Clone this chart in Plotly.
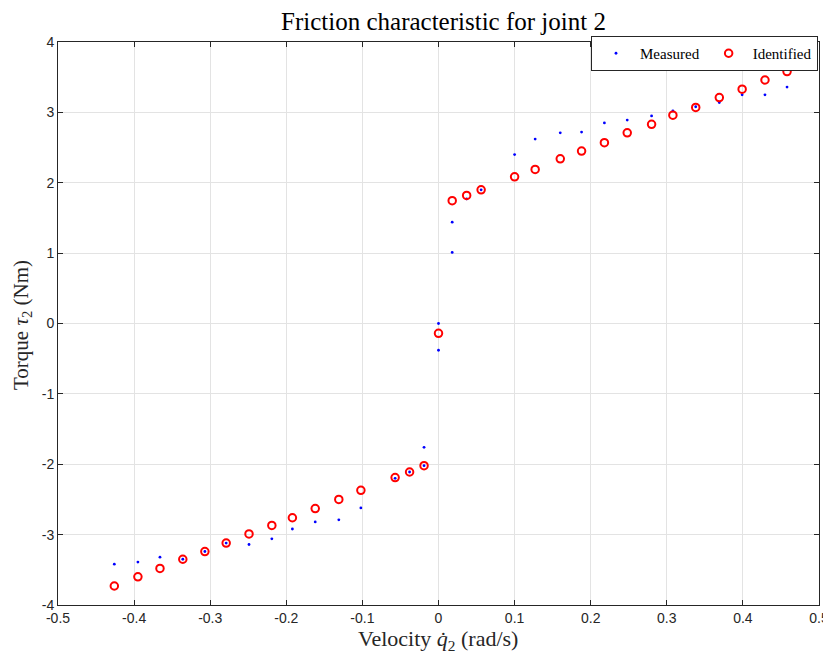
import plotly.graph_objects as go

# Measured friction data
x_meas = [-0.426, -0.395, -0.366, -0.336, -0.307, -0.279, -0.249, -0.219, -0.192, -0.162,
          -0.131, -0.102, -0.057, -0.038, -0.019, -0.019, 0.0, 0.0, 0.018, 0.018,
          0.037, 0.056, 0.100, 0.127, 0.160, 0.188, 0.218, 0.248, 0.280, 0.308,
          0.338, 0.369, 0.399, 0.429, 0.458]
y_meas = [-3.42, -3.39, -3.32, -3.35, -3.24, -3.12, -3.14, -3.06, -2.92, -2.82,
          -2.79, -2.62, -2.20, -2.11, -1.76, -2.02, 0.00, -0.38, 1.44, 1.01,
          1.77, 1.90, 2.40, 2.62, 2.71, 2.72, 2.85, 2.89, 2.95, 3.02,
          3.08, 3.14, 3.25, 3.25, 3.36]

# Identified friction model
x_ident = [-0.426, -0.395, -0.366, -0.336, -0.307, -0.279, -0.249, -0.219, -0.192, -0.162,
           -0.131, -0.102, -0.057, -0.038, -0.019, 0.0, 0.018, 0.037, 0.056, 0.100,
           0.127, 0.160, 0.188, 0.218, 0.248, 0.280, 0.308, 0.338, 0.369, 0.399,
           0.429, 0.458]
y_ident = [-3.73, -3.60, -3.48, -3.35, -3.24, -3.12, -2.99, -2.87, -2.76, -2.63,
           -2.50, -2.37, -2.19, -2.11, -2.02, -0.14, 1.745, 1.82, 1.90, 2.085,
           2.19, 2.34, 2.45, 2.57, 2.71, 2.83, 2.96, 3.07, 3.21, 3.33,
           3.46, 3.58]

x_tickvals = [-0.5, -0.4, -0.3, -0.2, -0.1, 0, 0.1, 0.2, 0.3, 0.4, 0.5]
x_ticktext = ["-0.5", "-0.4", "-0.3", "-0.2", "-0.1", "0", "0.1", "0.2", "0.3", "0.4", "0.5"]
y_tickvals = [-4, -3, -2, -1, 0, 1, 2, 3, 4]
y_ticktext = ["-4", "-3", "-2", "-1", "0", "1", "2", "3", "4"]

title_text = "Friction characteristic for joint 2"
xlabel_text = "Velocity <i>q̇</i><sub>2</sub> (rad/s)"
ylabel_text = "Torque <i>τ</i><sub>2</sub> (Nm)"

serif = "Liberation Serif"
sans = "Liberation Sans"
axcol = "#262626"
gridcol = "#e3e3e3"

W, H = 831, 655
OFF = 8  # page offset of the figure inside the browser window
PW, PH = 761, 563  # plot area size
ML, MT = 58 - OFF, 42 - OFF
MR, MB = W - ML - PW, H - MT - PH


def px(sx):
    return (sx - OFF - ML) / PW


def py(sy):
    return (MT + PH - (sy - OFF)) / PH


fig = go.Figure()
fig.add_trace(go.Scatter(x=x_meas, y=y_meas, mode="markers", name="Measured",
                         marker=dict(symbol="circle", size=2.8, color="#0000ff",
                                     line=dict(width=0))))
fig.add_trace(go.Scatter(x=x_ident, y=y_ident, mode="markers", name="Identified",
                         marker=dict(symbol="circle-open", size=7.5, color="#ff0000",
                                     line=dict(width=2, color="#ff0000"))))

axis_common = dict(showline=True, linecolor=axcol, linewidth=1, mirror="ticks",
                   ticks="inside", ticklen=5, tickcolor=axcol, tickwidth=1,
                   showgrid=True, gridcolor=gridcol, gridwidth=1, zeroline=False,
                   automargin=False,
                   tickfont=dict(family=sans, size=14, color=axcol))

fig.update_layout(
    width=W, height=H,
    paper_bgcolor="white", plot_bgcolor="white",
    margin=dict(l=ML, r=MR, t=MT, b=MB),
    title=dict(text=title_text, x=(443.5 - OFF) / W, xanchor="center",
               y=1 - (21 - OFF) / H, yanchor="middle",
               font=dict(family=serif, size=25, color="#000000")),
    xaxis=dict(range=[-0.5, 0.5], tickvals=x_tickvals, ticktext=x_ticktext,
               **axis_common),
    yaxis=dict(range=[-4, 4], tickvals=y_tickvals, ticktext=y_ticktext,
               **axis_common),
    legend=dict(x=px(818), xanchor="right", y=py(36), yanchor="top", orientation="h",
                bgcolor="white", bordercolor=axcol, borderwidth=1,
                font=dict(family=serif, size=15, color="#000000"),
                itemsizing="trace", itemwidth=38, tracegroupgap=0),
    showlegend=True,
    annotations=[
        dict(text=xlabel_text, xref="paper", yref="paper",
             x=px(438), y=py(640),
             xanchor="center", yanchor="middle", showarrow=False,
             font=dict(family=serif, size=22, color=axcol)),
        dict(text=ylabel_text, xref="paper", yref="paper",
             x=px(22), y=py(325),
             xanchor="center", yanchor="middle", showarrow=False, textangle=-90,
             font=dict(family=serif, size=21, color=axcol)),
    ],
)

fig.write_html("out.html")
